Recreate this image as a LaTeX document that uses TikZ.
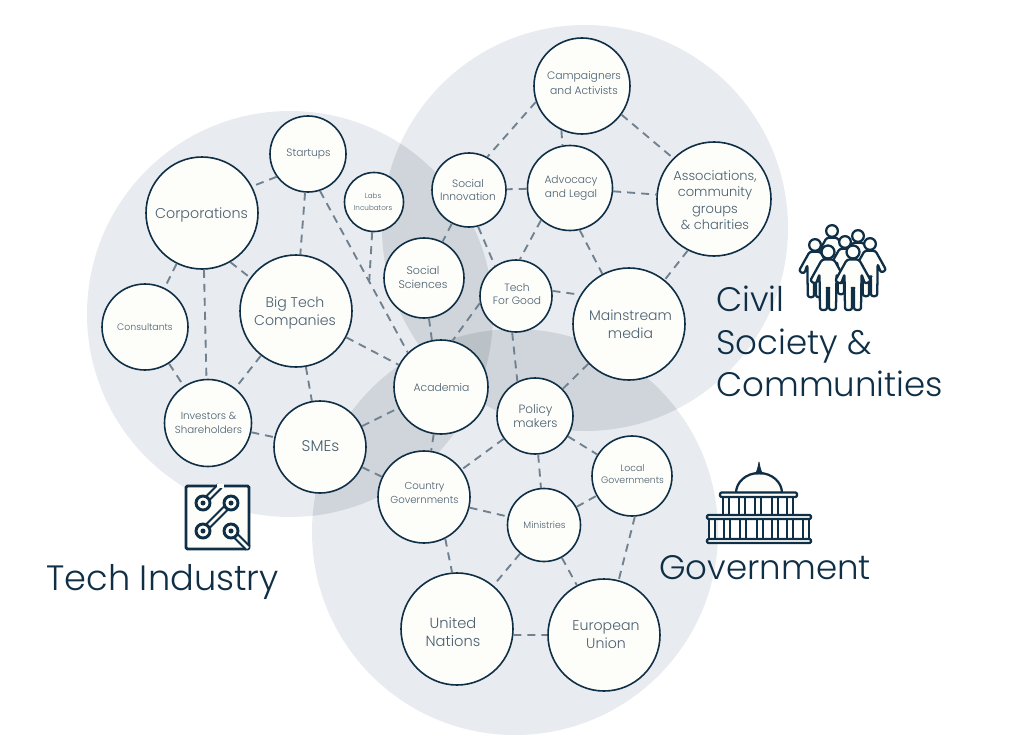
\documentclass[tikz,border=0pt]{standalone}
\usepackage{fontspec}
\setmainfont{Poppins}[UprightFont=* Light]
\definecolor{navy}{HTML}{0F2F47}
\definecolor{lab}{HTML}{4A5F6F}
\definecolor{edgec}{HTML}{70818F}
\definecolor{paper}{HTML}{FDFDF9}
\definecolor{base}{HTML}{E8EBEF}
\definecolor{two}{HTML}{CFD5DA}
\definecolor{three}{HTML}{BAC2C8}
\newcommand{\lab}[2]{\fontsize{#1}{#2}\selectfont}
\newcommand{\personicon}[3]{%
  \begin{scope}[shift={(#1,#2)},scale=#3]
    \draw[iconline,rounded corners=1.8pt] (-6,7.5) -- (-18,29) -- (-12,32) -- (-8.5,22) -- (-8,58) -- (-1,58) -- (-1,36) -- (1,36) -- (1,58) -- (8,58) -- (8.5,22) -- (12,32) -- (18,29) -- (6,7.5) -- cycle;
    \draw[iconline] (0,0) circle (6.5);
  \end{scope}}
\tikzset{
  x=0.75pt,y=-0.75pt,
  nd/.style={circle,draw=navy,fill=paper,line width=1.2pt,minimum size=#1*1.5pt,inner sep=0pt},
  lb/.style n args={5}{label={[align=center,text=lab,inner sep=0pt,font=\lab{#1}{#2},xshift=#3*0.75pt,yshift=#4*-0.75pt]center:{#5}}},
  conn/.style={draw=edgec,line width=1.4pt,dash pattern=on 6pt off 4.5pt},
  iconline/.style={draw=navy,fill=paper,line width=1.7pt,line join=round},
  strip/.style={draw=navy,line width=1.6pt,double=paper,double distance=2pt},
  title/.style={anchor=base west,text=navy,inner sep=0pt,font=\lab{25.5}{32}},
}
\begin{document}
\begin{tikzpicture}
\useasboundingbox (0,0) rectangle (1024,749);
% large regions
\fill[base] (290,314) circle (203);
\fill[base] (585,228) circle (203);
\fill[base] (515,532) circle (203);
\begin{scope}\clip (290,314) circle (203); \fill[two] (585,228) circle (203); \fill[two] (515,532) circle (203); \end{scope}
\begin{scope}\clip (585,228) circle (203); \fill[two] (515,532) circle (203); \end{scope}
\begin{scope}\clip (290,314) circle (203); \clip (585,228) circle (203); \fill[three] (515,532) circle (203); \end{scope}
% nodes
\node[nd=48,lb={8.1}{10.6}{2}{-3}{Campaigners\\and Activists}] (camp) at (582,86) {};
\node[nd=57,lb={9.8}{12.3}{1}{1}{Associations,\\community\\groups\\\& charities}] (assoc) at (714,199) {};
\node[nd=42.5,lb={8}{10.4}{1}{0}{Advocacy\\and Legal}] (adv) at (570,188) {};
\node[nd=37,lb={8}{10.4}{-1}{0}{Social\\Innovation}] (soci) at (469,190) {};
\node[nd=38,lb={8}{10}{0.5}{0}{Startups}] (start) at (308,154) {};
\node[nd=29.5,lb={5.4}{8.6}{-1}{0}{Labs\\Incubators}] (labs) at (374,202) {};
\node[nd=56,lb={10.7}{13}{-0.5}{2}{Corporations}] (corp) at (202,213) {};
\node[nd=40,lb={8.3}{10.5}{-1}{-1}{Social\\Sciences}] (socs) at (424,278) {};
\node[nd=36,lb={8}{10}{1}{-2}{Tech\\For Good}] (tfg) at (516,296) {};
\node[nd=56,lb={10.5}{13.5}{1.5}{0}{Mainstream\\media}] (main) at (629,324) {};
\node[nd=56,lb={10.6}{13.5}{-1}{2}{Big Tech\\Companies}] (big) at (296,311) {};
\node[nd=43,lb={7}{10}{0}{0}{Consultants}] (cons) at (145,327) {};
\node[nd=47,lb={8.1}{12}{0.5}{0}{Academia}] (acad) at (441,387) {};
\node[nd=38,lb={9}{11.2}{0.5}{0}{Policy\\makers}] (pol) at (535,416) {};
\node[nd=43.5,lb={7.7}{10.5}{0.5}{0}{Investors \&\\Shareholders}] (inv) at (208,423) {};
\node[nd=46,lb={11.6}{13}{0.5}{-1}{SMEs}] (sme) at (320,447) {};
\node[nd=46,lb={7.6}{10}{0.5}{-4}{Country\\Governments}] (ctry) at (424,497) {};
\node[nd=40,lb={7}{9.2}{0.5}{-2}{Local\\Governments}] (loc) at (632,476) {};
\node[nd=36.5,lb={7}{10}{0.5}{0}{Ministries}] (mini) at (544,525) {};
\node[nd=56,lb={11}{14}{-4}{3}{United\\Nations}] (un) at (457,629) {};
\node[nd=56,lb={10.6}{13.5}{2}{0}{European\\Union}] (eu) at (604,635) {};
\coordinate (labsend) at (369,285);
% connectors
\foreach \a/\b in {camp.199/soci.61,camp.-115/adv.100,camp.-36/assoc.135,adv/assoc,adv/soci,soci/socs,soci.-76/tfg.125,adv.228/tfg.84,adv.-77/main.118,assoc.243/main.51,tfg.8/main.149,tfg.191/acad.76,tfg.264/pol.117,main/pol,socs.-83/acad.101,start.-72/acad.134,start.216/corp.28,start/big,corp.-60/big.144,corp.-88/inv.92,corp/cons,cons/inv,big/inv,big/sme,big/acad,inv/sme,sme/acad,sme/ctry,acad/ctry,pol/ctry,pol/mini,pol/loc,ctry/mini,mini/loc,ctry.-63/un.95,mini/un,mini/eu,loc.-86/eu.75,un.-6/eu.180}
  \path[conn] (\a) -- (\b);
\path[conn] (labs) -- (labsend);
% civil society icon
\personicon{832}{231}{0.9}
\personicon{858}{236}{0.9}
\personicon{845}{242}{0.9}
\personicon{815}{245}{0.9}
\personicon{870}{244}{0.9}
\personicon{828}{252}{1}
\personicon{853}{252}{1}
% government icon
\draw[iconline] (736,493) arc[start angle=180,end angle=360,x radius=23,y radius=20] -- cycle;
\draw[iconline,fill=navy,line width=.6pt] (755,474) .. controls (757,472) and (758,468) .. (759,462) .. controls (760,468) and (761,472) .. (763,474) -- cycle;
\foreach \c in {726,742,758,775,790} \draw[iconline] (\c-3,496) rectangle (\c+3,516);
\foreach \c in {712,727,743,760,775,790,806} \draw[iconline] (\c-3,518) rectangle (\c+3,540);
\draw[iconline,rounded corners=1pt] (720,492.5) rectangle (797,497);
\draw[iconline,rounded corners=1pt] (707,515) rectangle (811,519);
\draw[iconline,rounded corners=1pt] (707,539) rectangle (811,543);
% tech icon
\draw[iconline,line width=2.2pt,rounded corners=1pt] (186,486) rectangle (249,549);
\draw[strip] (203,503) -- (220,486);
\fill[paper] (217,484) rectangle (224,488);
\draw[strip] (231,503) -- (203,531);
\draw[strip] (231,531) -- (248,548);
\foreach \p/\q in {203/503,231/503,203/531,231/531}{
  \draw[iconline,line width=2.2pt] (\p,\q) circle (7);
  \fill[navy] (\p,\q) circle (2.5);
}
% titles
\node[title,font=\lab{26.4}{32}] (t1) at (46,590) {Tech Industry};
\node[title] (t2) at (659,579) {Government};
\node[title] (t3) at (716,311) {Civil};
\node[title] (t4) at (716,354) {Society \&};
\node[title] (t5) at (716,396) {Communities};
\end{tikzpicture}
\end{document}
